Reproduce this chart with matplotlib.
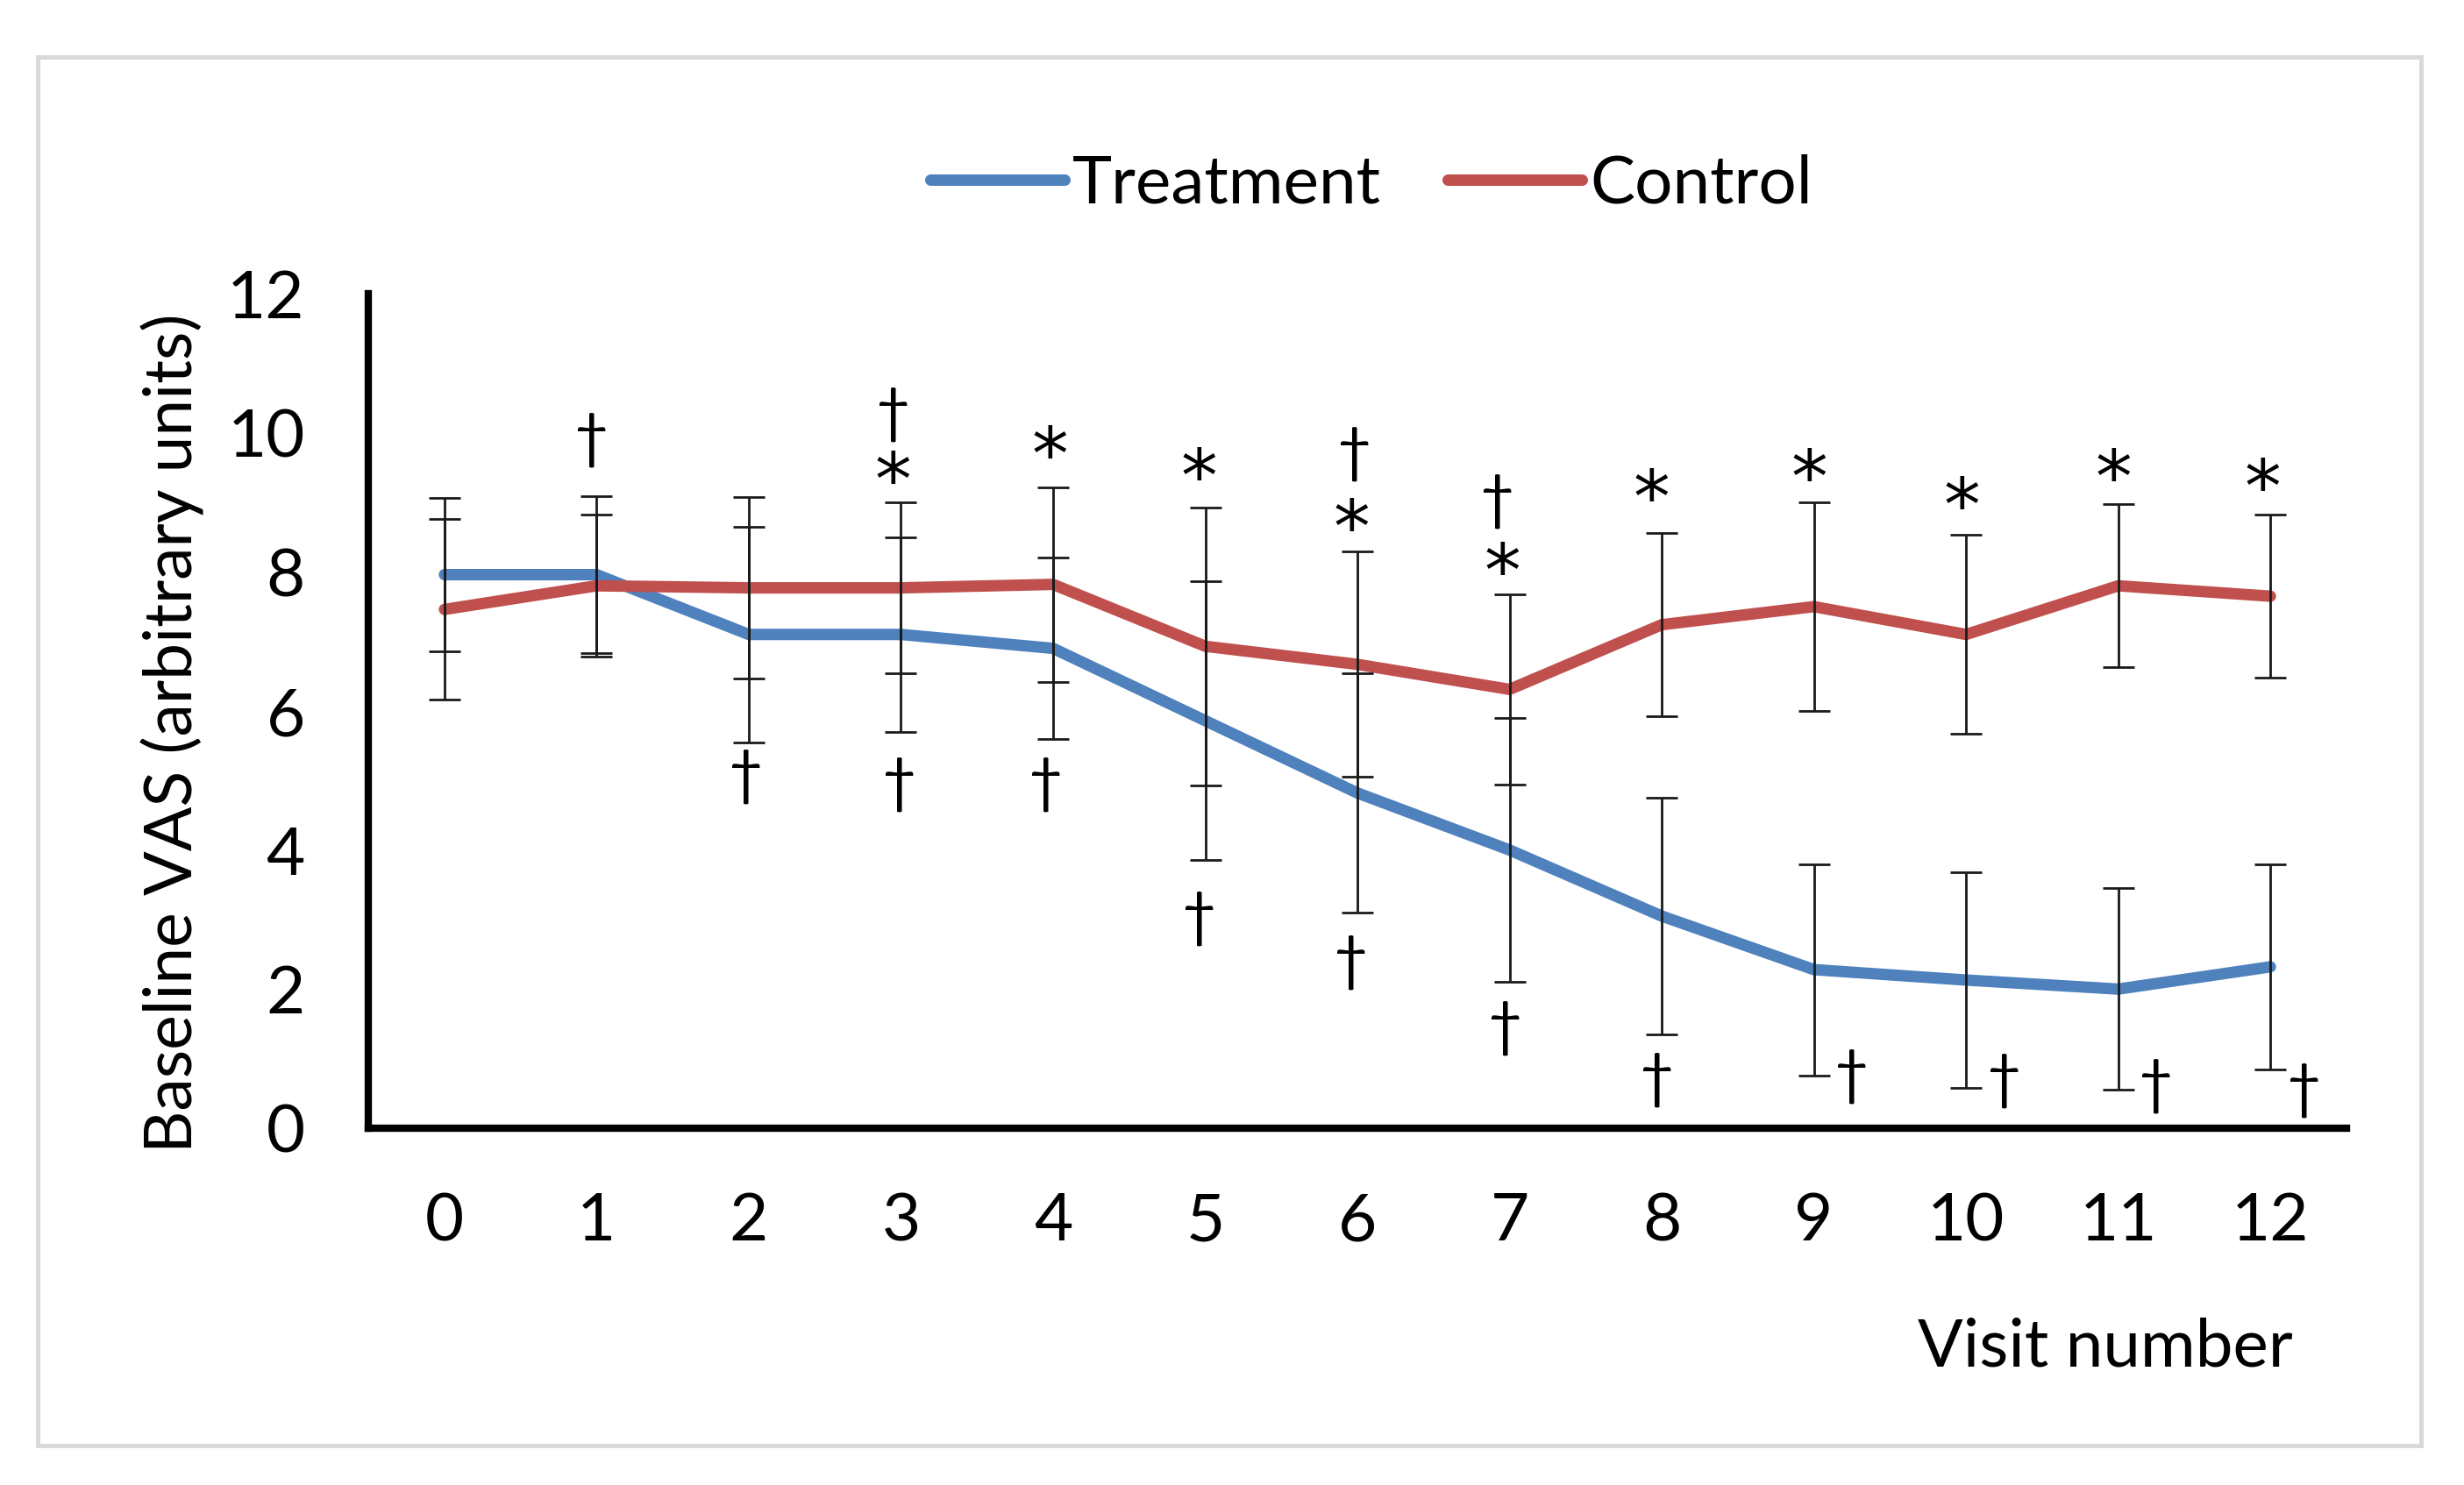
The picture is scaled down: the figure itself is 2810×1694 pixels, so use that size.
import matplotlib
matplotlib.use("Agg")
import matplotlib.pyplot as plt
from matplotlib.patches import Rectangle

plt.rcParams['font.family'] = ['Lato', 'DejaVu Sans']

visits = list(range(13))
treatment = [7.96, 7.96, 7.1, 7.1, 6.9, 5.86, 4.82, 4.0, 3.05, 2.28, 2.13, 2.0, 2.32]
treatment_err = [1.1, 1.13, 1.55, 1.4, 1.3, 2.0, 1.72, 1.9, 1.7, 1.52, 1.55, 1.45, 1.48]
control = [7.46, 7.8, 7.77, 7.77, 7.82, 6.93, 6.67, 6.31, 7.24, 7.5, 7.1, 7.8, 7.65]
control_err = [1.3, 1.02, 1.3, 1.23, 1.4, 2.0, 1.62, 1.37, 1.32, 1.5, 1.43, 1.17, 1.17]

# significance marks: (x, y, symbol)
mark_x = [0.97, 1.98, 2.95, 2.95, 2.99, 3.98, 3.95, 4.96, 4.96, 5.98, 5.96, 5.96,
          6.92, 6.95, 6.97, 7.93, 7.97, 8.97, 9.25, 9.97, 10.25, 10.97, 11.25, 11.95, 12.22]
mark_y = [9.9, 5.06, 10.26, 9.49, 4.95, 9.85, 4.95, 9.54, 3.01, 9.7, 8.81, 2.38,
          9.01, 8.18, 1.44, 9.24, 0.69, 9.53, 0.75, 9.12, 0.68, 9.53, 0.61, 9.39, 0.54]
mark_s = ['†', '†', '†', '*', '†', '*', '†', '*', '†', '†', '*', '†',
          '†', '*', '†', '*', '†', '*', '†', '*', '†', '*', '†', '*', '†']

blue = '#4F81BD'
red = '#C0504D'
FS = 27.5

fig = plt.figure(figsize=(14.05, 8.47), dpi=200)
fig.patches.append(Rectangle((43 / 2810, 1 - 1649 / 1694), (2761 - 43) / 2810, (1649 - 65) / 1694,
                             transform=fig.transFigure, fill=False, edgecolor='#d9d9d9', lw=1.8))
ax = fig.add_axes([0.1495, 0.2403, 0.9523 - 0.1495, 0.8022 - 0.2403])

ax.plot(visits, treatment, color=blue, lw=4.7, label='Treatment', solid_capstyle='round', zorder=2)
ax.plot(visits, control, color=red, lw=4.7, label='Control', solid_capstyle='round', zorder=2)
ax.errorbar(visits, treatment, yerr=treatment_err, fmt='none', ecolor='#1a1a1a', elinewidth=1.0,
            capsize=6.4, capthick=1.0, zorder=3)
ax.errorbar(visits, control, yerr=control_err, fmt='none', ecolor='#1a1a1a', elinewidth=1.0,
            capsize=6.4, capthick=1.0, zorder=3)

for x, y, s in zip(mark_x, mark_y, mark_s):
    if s == '†':
        ax.text(x, y, s, ha='center', va='center', fontsize=24.5, color='black', zorder=4)
    else:
        fs = 30
        ax.annotate(s, (x, y), xytext=(0, -0.5 * fs), textcoords='offset points',
                    ha='center', va='baseline', fontsize=fs, family='DejaVu Sans',
                    color='black', zorder=4)

ax.set_xlim(-0.5, 12.5)
ax.set_ylim(0, 12)
ax.set_xticks(visits)
ax.set_yticks(range(0, 13, 2))
ax.tick_params(axis='both', length=0, labelsize=FS, colors='black')
ax.tick_params(axis='x', pad=26)
ax.tick_params(axis='y', pad=26)
for side in ['top', 'right']:
    ax.spines[side].set_visible(False)
for side in ['left', 'bottom']:
    ax.spines[side].set_linewidth(3.0)
    ax.spines[side].set_color('black')

ax.set_xlabel('Visit number', fontsize=FS, ha='right', va='center')
ax.xaxis.set_label_coords(0.973, -0.263)
ax.set_ylabel('Baseline VAS (arbitrary units)', fontsize=27, va='center')
ax.yaxis.set_label_coords(-0.0988, 0.473)

leg = ax.legend(loc='center', bbox_to_anchor=(0.507, 1 + (335 - 210) / 952), ncol=2, frameon=False,
                fontsize=FS, handlelength=2.0, handletextpad=0.12, columnspacing=1.0)

fig.savefig('out.png', dpi=200, facecolor='white')
